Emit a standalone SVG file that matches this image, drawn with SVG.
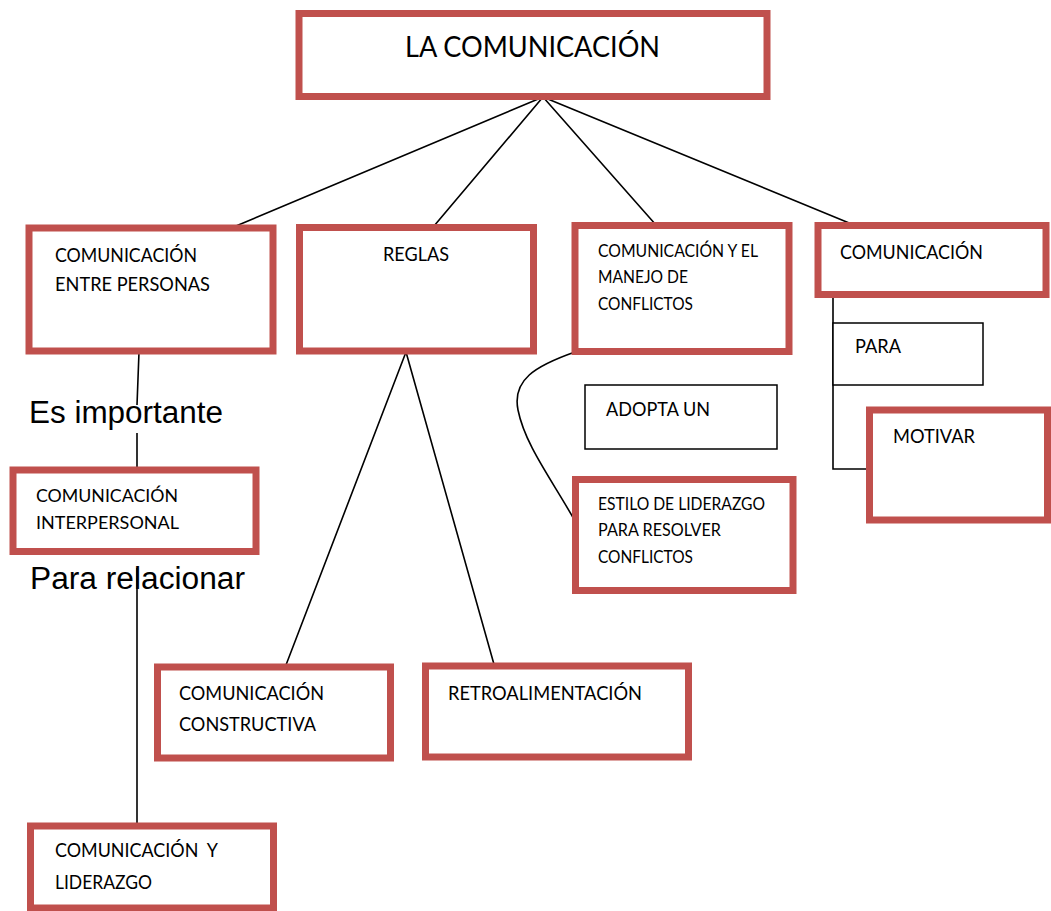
<svg xmlns="http://www.w3.org/2000/svg" width="1051" height="911" viewBox="0 0 1051 911">
<style>
.rbox{fill:#fff;stroke:#C0504D;stroke-width:7}
.tbox{fill:#fff;stroke:#000;stroke-width:1.5}
.t{font-family:Lato,"Open Sans",sans-serif;fill:#000}
.big{font-family:"Liberation Sans",Arial,sans-serif;font-size:31px;fill:#000}
.ln{fill:none;stroke:#000;stroke-width:1.6}
</style>
<rect width="1051" height="911" fill="#fff"/>
<g id="connectors">
<path class="ln" d="M543,97 L236,226 M543,97 L434,226 M543,97 L656,225 M543,97 L854,225"/>
<path class="ln" d="M139,352 L137,405 M137,433 L137,478"/>
<path class="ln" d="M137,568 L137,825"/>
<path class="ln" d="M406,352 L286,665 M406,352 L497,675"/>
<path class="ln" d="M575,352 C535,366 512,380 518,410 C525,445 552,480 575,521"/>
<path class="ln" d="M833,298 L833,469 L868,469"/>
</g>
<g id="n-top"><rect class="rbox" x="299" y="13.5" width="468" height="83"/>
<text class="t" x="405" y="57" font-size="28" textLength="255" lengthAdjust="spacingAndGlyphs">LA COMUNICACIÓN</text></g>
<g id="n-personas"><rect class="rbox" x="29" y="228" width="244" height="123"/>
<text class="t" x="55" y="262" font-size="20" textLength="142" lengthAdjust="spacingAndGlyphs">COMUNICACIÓN</text>
<text class="t" x="55" y="291" font-size="20" textLength="155" lengthAdjust="spacingAndGlyphs">ENTRE PERSONAS</text></g>
<g id="n-reglas"><rect class="rbox" x="299.5" y="227.5" width="234" height="123.5"/>
<text class="t" x="383" y="261" font-size="20" textLength="66" lengthAdjust="spacingAndGlyphs">REGLAS</text></g>
<g id="n-conflictos"><rect class="rbox" x="575" y="225.5" width="214" height="126"/>
<text class="t" x="598" y="257" font-size="17" textLength="160" lengthAdjust="spacingAndGlyphs">COMUNICACIÓN Y EL</text>
<text class="t" x="598" y="283" font-size="17" textLength="90" lengthAdjust="spacingAndGlyphs">MANEJO DE</text>
<text class="t" x="598" y="310" font-size="17" textLength="95" lengthAdjust="spacingAndGlyphs">CONFLICTOS</text></g>
<g id="n-comunicacion4"><rect class="rbox" x="818" y="225.5" width="228" height="69"/>
<text class="t" x="840" y="259" font-size="20" textLength="143" lengthAdjust="spacingAndGlyphs">COMUNICACIÓN</text></g>
<g id="n-para"><rect class="tbox" x="833" y="323" width="150" height="62"/>
<text class="t" x="855" y="353" font-size="20" textLength="46" lengthAdjust="spacingAndGlyphs">PARA</text></g>
<g id="n-motivar"><rect class="rbox" x="869.5" y="410" width="178" height="110"/>
<text class="t" x="893" y="443" font-size="20" textLength="82" lengthAdjust="spacingAndGlyphs">MOTIVAR</text></g>
<g id="n-adopta"><rect class="tbox" x="585" y="385" width="192" height="64"/>
<text class="t" x="606" y="416" font-size="19" textLength="104" lengthAdjust="spacingAndGlyphs">ADOPTA UN</text></g>
<g id="n-estilo"><rect class="rbox" x="575.5" y="479.5" width="217.5" height="111"/>
<text class="t" x="598" y="510" font-size="17" textLength="167" lengthAdjust="spacingAndGlyphs">ESTILO DE LIDERAZGO</text>
<text class="t" x="598" y="536" font-size="17" textLength="123" lengthAdjust="spacingAndGlyphs">PARA RESOLVER</text>
<text class="t" x="598" y="563" font-size="17" textLength="95" lengthAdjust="spacingAndGlyphs">CONFLICTOS</text></g>
<g id="l-importante"><text class="big" x="29" y="423" textLength="194" lengthAdjust="spacingAndGlyphs">Es importante</text></g>
<g id="n-interpersonal"><rect class="rbox" x="13" y="470" width="243" height="81.5"/>
<text class="t" x="36" y="502" font-size="18" textLength="142" lengthAdjust="spacingAndGlyphs">COMUNICACIÓN</text>
<text class="t" x="36" y="529" font-size="18" textLength="143" lengthAdjust="spacingAndGlyphs">INTERPERSONAL</text></g>
<g id="l-relacionar"><text class="big" x="30" y="589" textLength="215" lengthAdjust="spacingAndGlyphs">Para relacionar</text></g>
<g id="n-constructiva"><rect class="rbox" x="157.5" y="667" width="233" height="91"/>
<text class="t" x="179" y="700" font-size="20" textLength="145" lengthAdjust="spacingAndGlyphs">COMUNICACIÓN</text>
<text class="t" x="179" y="731" font-size="20" textLength="137" lengthAdjust="spacingAndGlyphs">CONSTRUCTIVA</text></g>
<g id="n-retro"><rect class="rbox" x="425.5" y="666" width="263" height="91"/>
<text class="t" x="448" y="700" font-size="20" textLength="194" lengthAdjust="spacingAndGlyphs">RETROALIMENTACIÓN</text></g>
<g id="n-liderazgo"><rect class="rbox" x="30.5" y="826" width="243" height="82"/>
<text class="t" x="55" y="857" font-size="20" textLength="163" lengthAdjust="spacingAndGlyphs" xml:space="preserve">COMUNICACIÓN  Y</text>
<text class="t" x="55" y="889" font-size="20" textLength="97" lengthAdjust="spacingAndGlyphs">LIDERAZGO</text></g>
</svg>
